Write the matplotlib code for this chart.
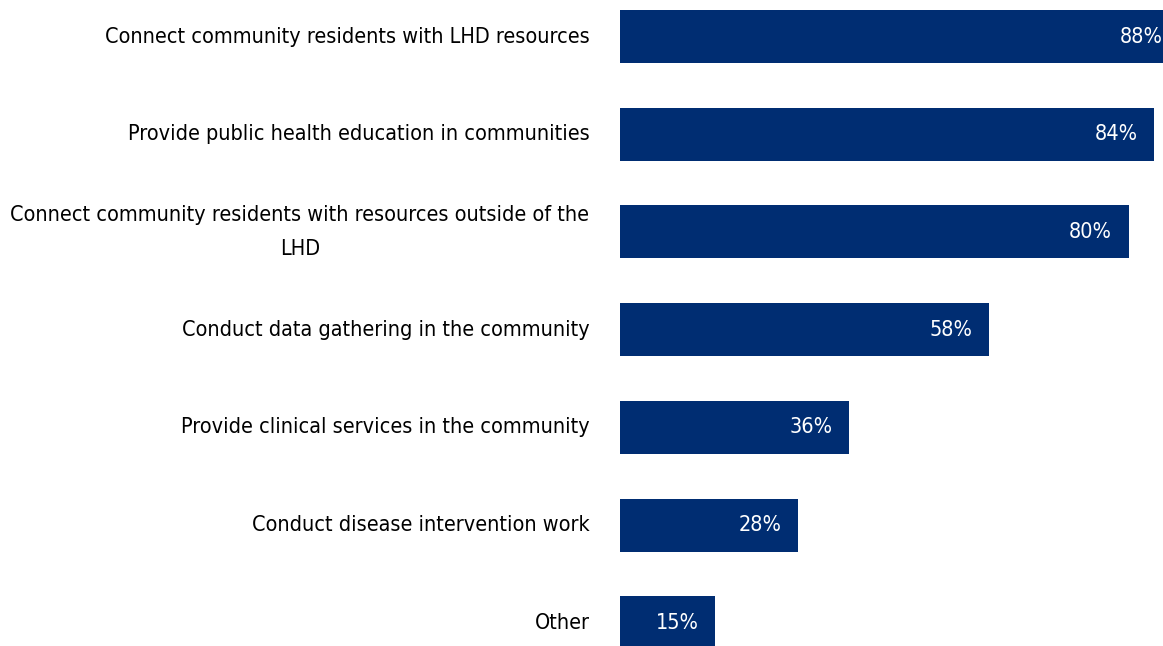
import matplotlib
matplotlib.use("Agg")
import matplotlib.pyplot as plt

categories = [
    "Connect community residents with LHD resources",
    "Provide public health education in communities",
    "Connect community residents with resources outside of the\nLHD",
    "Conduct data gathering in the community",
    "Provide clinical services in the community",
    "Conduct disease intervention work",
    "Other",
]
values = [88, 84, 80, 58, 36, 28, 15]

navy = "#002D72"
plt.rcParams["font.family"] = ["DejaVu Sans"]
plt.rcParams["font.stretch"] = "condensed"

fig = plt.figure(figsize=(11.63, 6.46), dpi=100)
W, H = 1163, 646
ax = fig.add_axes([620 / W, 0, (W - 620) / W, 1])

pos = list(range(len(values)))
ax.barh(pos, values, height=0.542, color=navy)

ax.set_xlim(0, 85.4)
ax.set_ylim(6.238, -0.3736)
ax.axis("off")

for y, v, c in zip(pos, values, categories):
    ax.annotate(f"{v}%", (v, y), xytext=(-12, 0), textcoords="offset points",
                ha="right", va="center", color="white", fontsize=15.5,
                annotation_clip=False, clip_on=True)
    ax.annotate(c, (0, y), xytext=(-22, 0), textcoords="offset points",
                ha="right", va="center", color="black", fontsize=15.5,
                multialignment="center", linespacing=1.9,
                annotation_clip=False)

fig.savefig("out.png", dpi=100)
